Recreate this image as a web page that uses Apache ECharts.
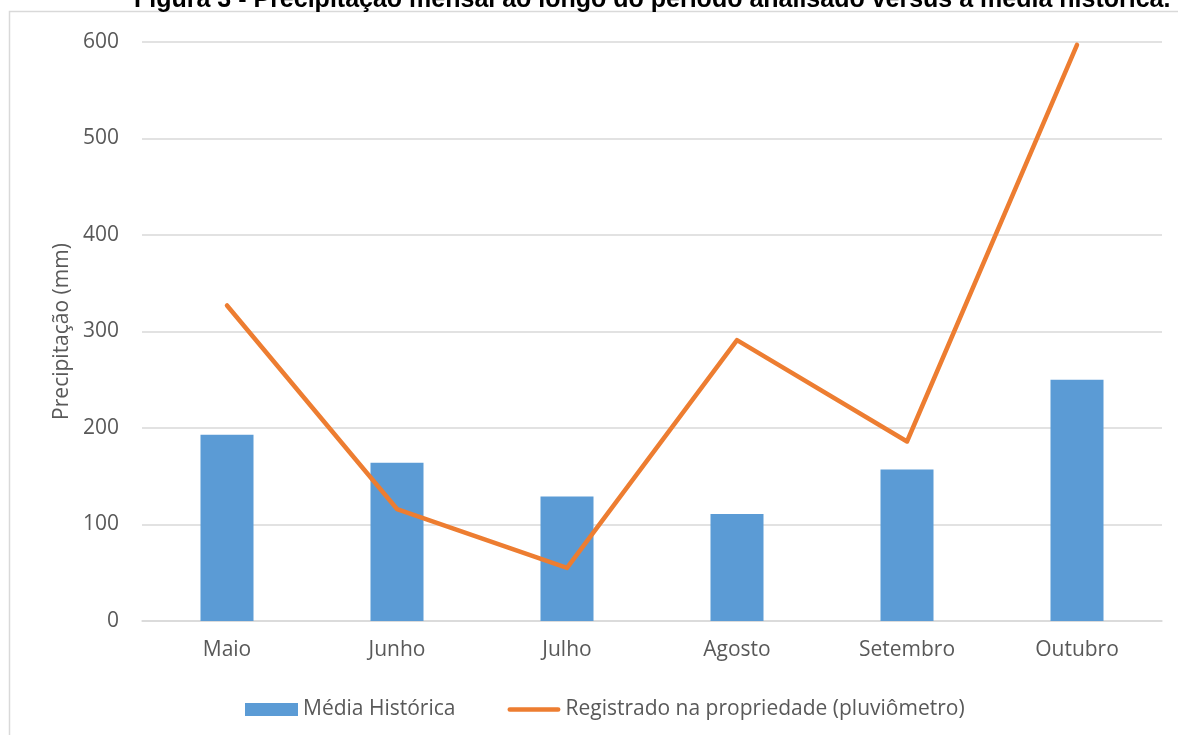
<!DOCTYPE html>
<html>
<head>
<meta charset="utf-8">
<script src="https://cdn.jsdelivr.net/npm/echarts@6/dist/echarts.min.js"></script>
<style>html,body{margin:0;padding:0;background:#fff;}#c{width:1178px;height:735px;}</style>
</head>
<body>
<div id="c"></div>
<script>
const titleText = 'Figura 3 - Precipitação mensal ao longo do período analisado versus a média histórica.';
const categories = ['Maio', 'Junho', 'Julho', 'Agosto', 'Setembro', 'Outubro'];
const mediaHistorica = [193, 164, 129, 111, 157, 250];
const registrado = [327, 116, 55, 291, 186, 597];
const seriesNames = ['Média Histórica', 'Registrado na propriedade (pluviômetro)'];
const yAxisName = 'Precipitação (mm)';

const font = '"Open Sans", "Noto Sans", sans-serif';
const chart = echarts.init(document.getElementById('c'), null, {renderer: 'canvas'});
chart.setOption({
  animation: false,
  backgroundColor: '#fff',
  title: {
    text: titleText,
    left: 134,
    top: -12,
    padding: 0,
    textStyle: {fontFamily: '"Liberation Sans", Arial, sans-serif', fontWeight: 'bold', fontSize: 25, color: '#000'}
  },
  graphic: [{
    type: 'rect',
    shape: {x: 9.5, y: 11.5, width: 1200, height: 800},
    style: {fill: null, stroke: '#d9d9d9', lineWidth: 1.5},
    z: -1
  }],
  grid: {left: 142, right: 16, top: 42, bottom: 114},
  legend: {
    data: [
      {name: seriesNames[0], icon: 'rect'},
      {name: seriesNames[1], icon: 'path://M0,0M56,13M2.5,4L53.5,4A2.5,2.5,0,0,1,53.5,9L2.5,9A2.5,2.5,0,0,1,2.5,4Z'}
    ],
    left: 245,
    top: 699,
    padding: 0,
    itemWidth: 53,
    itemHeight: 13,
    itemGap: 52,
    textStyle: {fontFamily: font, fontSize: 21, color: '#595959'}
  },
  xAxis: {
    type: 'category',
    data: categories,
    axisLine: {lineStyle: {color: '#d9d9d9', width: 1.5}},
    axisTick: {show: false},
    axisLabel: {fontFamily: font, fontSize: 21, color: '#595959', margin: 19}
  },
  yAxis: {
    type: 'value',
    min: 0,
    max: 600,
    interval: 100,
    name: yAxisName,
    nameLocation: 'middle',
    nameGap: 68,
    nameTextStyle: {fontFamily: font, fontSize: 21, color: '#595959'},
    axisLine: {show: false},
    axisTick: {show: false},
    splitLine: {lineStyle: {color: '#d9d9d9', width: 1.5}},
    axisLabel: {fontFamily: font, fontSize: 21, color: '#595959', margin: 23}
  },
  series: [{
    name: seriesNames[0],
    type: 'bar',
    data: mediaHistorica,
    barWidth: 53,
    itemStyle: {color: '#5b9bd5'}
  }, {
    name: seriesNames[1],
    type: 'line',
    data: registrado,
    symbol: 'none',
    lineStyle: {color: '#ed7d31', width: 4.5, cap: 'round', join: 'round'},
    itemStyle: {color: '#ed7d31'}
  }]
});
</script>
</body>
</html>
